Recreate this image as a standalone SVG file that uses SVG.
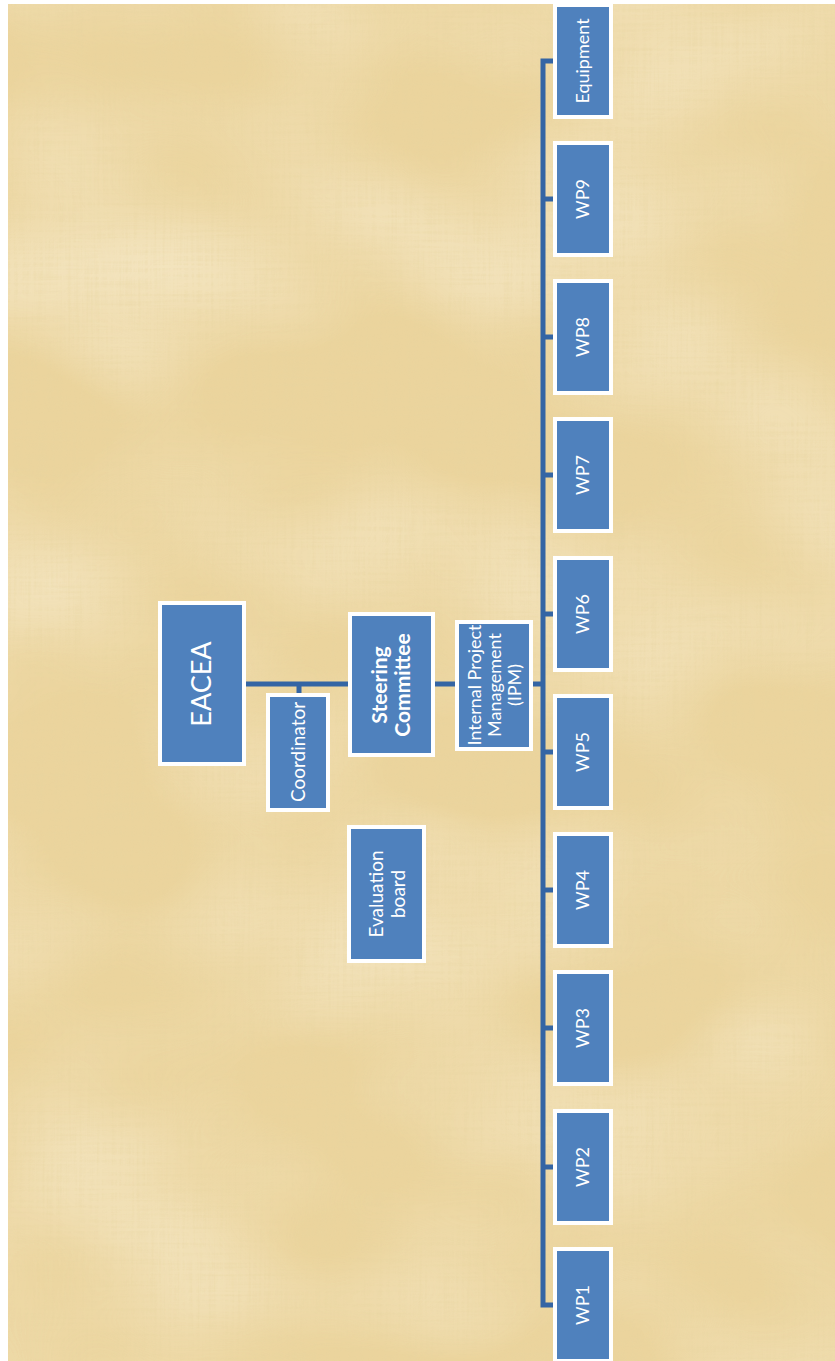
<svg xmlns="http://www.w3.org/2000/svg" width="835" height="1361" viewBox="0 0 835 1361">
<defs>
<style>
.box{fill:#4f81bd;stroke:#ffffff;stroke-width:4}
.lbl{fill:#ffffff;font-family:Lato,"Open Sans","Liberation Sans",sans-serif;text-anchor:middle}
.wp{font-size:18px}
.con{stroke:#3465a4;fill:none;stroke-width:5}
</style>
<filter id="fib" x="0" y="0" width="100%" height="100%">
<feTurbulence type="fractalNoise" baseFrequency="0.35 0.012" numOctaves="3" seed="4" result="a"/>
<feTurbulence type="fractalNoise" baseFrequency="0.012 0.35" numOctaves="3" seed="9" result="b"/>
<feComposite in="a" in2="b" operator="arithmetic" k2="0.5" k3="0.5" result="c"/>
<feColorMatrix in="c" type="matrix" values="0 0 0 0 0.80  0 0 0 0 0.66  0 0 0 0 0.35  -1.4 0 0 0 0.78"/>
</filter>
<filter id="lt" x="0" y="0" width="100%" height="100%">
<feTurbulence type="fractalNoise" baseFrequency="0.004 0.006" numOctaves="2" seed="2"/>
<feColorMatrix type="matrix" values="0 0 0 0 1  0 0 0 0 0.96  0 0 0 0 0.85  1.2 0 0 0 -0.45"/>
</filter>
</defs>
<rect x="0" y="0" width="835" height="1361" fill="#ffffff"/>
<rect x="8" y="4" width="827" height="1357" fill="#ebd49d"/>
<rect x="8" y="4" width="827" height="1357" filter="url(#lt)" opacity="0.7"/>
<rect x="8" y="4" width="827" height="1357" filter="url(#fib)" opacity="0.8"/>

<g id="connectors">
<line class="con" x1="246" y1="684" x2="348" y2="684"/>
<line class="con" x1="299" y1="684" x2="299" y2="694" stroke-width="4"/>
<line class="con" x1="435" y1="684" x2="455" y2="684"/>
<line class="con" x1="533" y1="684" x2="543" y2="684"/>
<path class="con" stroke-width="6" d="M553,61 H543 V1305 H553"/>
<line class="con" x1="543" y1="199" x2="553" y2="199"/>
<line class="con" x1="543" y1="337" x2="553" y2="337"/>
<line class="con" x1="543" y1="475" x2="553" y2="475"/>
<line class="con" x1="543" y1="614" x2="553" y2="614"/>
<line class="con" x1="543" y1="752" x2="553" y2="752"/>
<line class="con" x1="543" y1="890" x2="553" y2="890"/>
<line class="con" x1="543" y1="1028" x2="553" y2="1028"/>
<line class="con" x1="543" y1="1167" x2="553" y2="1167"/>
</g>

<g id="eacea">
<rect class="box" x="160" y="603" width="84" height="161"/>
<text class="lbl" font-size="27" transform="translate(202,684) rotate(-90)" dy="0.35em">EACEA</text>
</g>
<g id="coordinator">
<rect class="box" x="268" y="695" width="60" height="115"/>
<text class="lbl" font-size="19" transform="translate(298,752) rotate(-90)" dy="0.35em">Coordinator</text>
</g>
<g id="steering">
<rect class="box" x="350" y="614" width="83" height="141"/>
<text class="lbl" font-size="21" font-weight="bold" transform="translate(391,685) rotate(-90)"><tspan x="0" y="-4">Steering</tspan><tspan x="0" y="19">Committee</tspan></text>
</g>
<g id="evaluation">
<rect class="box" x="349" y="827" width="75" height="134"/>
<text class="lbl" font-size="19" transform="translate(387,894) rotate(-90)"><tspan x="0" y="-4">Evaluation</tspan><tspan x="0" y="18">board</tspan></text>
</g>
<g id="ipm">
<rect class="box" x="457" y="622" width="74" height="127"/>
<text class="lbl" font-size="18" transform="translate(494,685) rotate(-90)"><tspan x="0" y="-13">Internal Project</tspan><tspan x="0" y="7">Management</tspan><tspan x="0" y="27">(IPM)</tspan></text>
</g>

<g id="equipment"><rect class="box" x="555" y="5" width="56" height="112"/><text class="lbl wp" transform="translate(583,61) rotate(-90)" dy="0.35em">Equipment</text></g>
<g id="wp9"><rect class="box" x="555" y="143" width="56" height="112"/><text class="lbl wp" transform="translate(583,199) rotate(-90)" dy="0.35em">WP9</text></g>
<g id="wp8"><rect class="box" x="555" y="281" width="56" height="112"/><text class="lbl wp" transform="translate(583,337) rotate(-90)" dy="0.35em">WP8</text></g>
<g id="wp7"><rect class="box" x="555" y="419" width="56" height="112"/><text class="lbl wp" transform="translate(583,475) rotate(-90)" dy="0.35em">WP7</text></g>
<g id="wp6"><rect class="box" x="555" y="558" width="56" height="112"/><text class="lbl wp" transform="translate(583,614) rotate(-90)" dy="0.35em">WP6</text></g>
<g id="wp5"><rect class="box" x="555" y="696" width="56" height="112"/><text class="lbl wp" transform="translate(583,752) rotate(-90)" dy="0.35em">WP5</text></g>
<g id="wp4"><rect class="box" x="555" y="834" width="56" height="112"/><text class="lbl wp" transform="translate(583,890) rotate(-90)" dy="0.35em">WP4</text></g>
<g id="wp3"><rect class="box" x="555" y="972" width="56" height="112"/><text class="lbl wp" transform="translate(583,1028) rotate(-90)" dy="0.35em">WP3</text></g>
<g id="wp2"><rect class="box" x="555" y="1111" width="56" height="112"/><text class="lbl wp" transform="translate(583,1167) rotate(-90)" dy="0.35em">WP2</text></g>
<g id="wp1"><rect class="box" x="555" y="1249" width="56" height="112"/><text class="lbl wp" transform="translate(583,1305) rotate(-90)" dy="0.35em">WP1</text></g>
</svg>
